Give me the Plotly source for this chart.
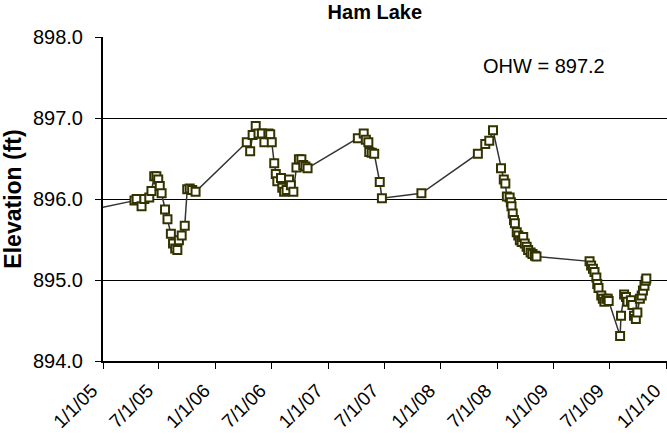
import plotly.graph_objects as go

# Lake level survey readings: date and water surface elevation (ft)
dates = [
    "2004-09-01",
    "2005-04-13", "2005-04-20", "2005-05-06", "2005-05-15", "2005-05-31",
    "2005-06-07", "2005-06-16", "2005-06-23", "2005-06-29", "2005-07-04",
    "2005-07-10", "2005-07-21", "2005-07-29", "2005-08-09", "2005-08-16",
    "2005-08-23", "2005-08-30", "2005-09-04", "2005-09-13", "2005-09-23",
    "2005-10-01", "2005-10-09", "2005-10-17", "2005-10-28",
    "2006-04-12", "2006-04-23", "2006-05-01", "2006-05-11", "2006-05-20",
    "2006-05-31", "2006-06-08", "2006-06-21", "2006-06-27", "2006-07-02",
    "2006-07-10", "2006-07-15", "2006-07-20", "2006-08-01", "2006-08-05",
    "2006-08-11", "2006-08-19", "2006-08-27", "2006-09-02", "2006-09-10",
    "2006-09-20", "2006-09-28", "2006-10-06", "2006-10-12", "2006-10-19",
    "2006-10-26",
    "2007-04-07", "2007-04-26", "2007-05-03", "2007-05-11", "2007-05-14",
    "2007-05-22", "2007-05-30", "2007-06-17", "2007-06-24", "2007-10-30",
    "2008-04-30", "2008-05-24", "2008-06-06", "2008-06-18", "2008-07-14",
    "2008-07-23", "2008-07-28", "2008-08-02", "2008-08-11", "2008-08-15",
    "2008-08-17", "2008-08-21", "2008-08-25", "2008-08-28", "2008-09-03",
    "2008-09-08", "2008-09-13", "2008-09-19", "2008-09-24", "2008-09-29",
    "2008-10-05", "2008-10-10", "2008-10-18", "2008-10-24", "2008-11-01",
    "2008-11-06",
    "2009-04-27", "2009-05-02", "2009-05-08", "2009-05-13", "2009-05-19",
    "2009-05-22", "2009-05-26", "2009-06-04", "2009-06-09", "2009-06-14",
    "2009-06-20", "2009-06-25", "2009-06-28", "2009-08-04", "2009-08-07",
    "2009-08-17", "2009-08-23", "2009-08-28", "2009-09-08", "2009-09-13",
    "2009-09-18", "2009-09-24", "2009-09-29", "2009-10-07", "2009-10-13",
    "2009-10-17", "2009-10-22", "2009-10-26", "2009-10-28",
]

elevations = [
    895.80,
    895.98, 896.00, 895.91, 896.00, 896.02,
    896.10, 896.28, 896.28, 896.24, 896.16,
    896.07, 895.87, 895.75, 895.57, 895.45,
    895.39, 895.37, 895.49, 895.55, 895.67,
    896.12, 896.13, 896.11, 896.09,
    896.70, 896.59, 896.79, 896.90, 896.81,
    896.81, 896.70, 896.81, 896.80, 896.70,
    896.44, 896.31, 896.22, 896.26, 896.14,
    896.09, 896.11, 896.24, 896.17, 896.09,
    896.39, 896.49, 896.49, 896.42, 896.40,
    896.38,
    896.75, 896.81, 896.73, 896.70, 896.58,
    896.57, 896.56, 896.21, 896.01, 896.07,
    896.56, 896.68, 896.72, 896.85, 896.38,
    896.24, 896.19, 896.03, 896.02, 895.96,
    895.91, 895.82, 895.74, 895.70, 895.59,
    895.55, 895.49, 895.47, 895.53, 895.45,
    895.41, 895.37, 895.34, 895.32, 895.30,
    895.29,
    895.23, 895.18, 895.14, 895.10, 895.03,
    894.95, 894.90, 894.81, 894.77, 894.73,
    894.77, 894.77, 894.74, 894.31, 894.56,
    894.82, 894.79, 894.73, 894.75, 894.69,
    894.56, 894.52, 894.60, 894.77, 894.81,
    894.87, 894.93, 894.99, 895.02,
]

# Half-yearly date ticks along the bottom axis
tick_dates = [
    "2005-01-01", "2005-07-01", "2006-01-01", "2006-07-01", "2007-01-01",
    "2007-07-01", "2008-01-01", "2008-07-01", "2009-01-01", "2009-07-01",
    "2010-01-01",
]
tick_labels = [
    "1/1/05", "7/1/05", "1/1/06", "7/1/06", "1/1/07", "7/1/07",
    "1/1/08", "7/1/08", "1/1/09", "7/1/09", "1/1/10",
]

title_text = "Ham Lake"
y_title = "Elevation (ft)"
ohw_label = "OHW = 897.2"
x_range = ["2005-01-01", "2010-01-03"]
y_range = [894.0, 898.0]

FONT = "Liberation Sans, Arial, sans-serif"

fig = go.Figure()
fig.add_trace(
    go.Scatter(
        x=dates,
        y=elevations,
        mode="lines+markers",
        line=dict(color="#333333", width=1.5),
        marker=dict(
            symbol="square",
            size=8,
            color="white",
            line=dict(color="#333300", width=2),
        ),
        cliponaxis=True,
        showlegend=False,
    )
)

fig.add_annotation(
    text=ohw_label,
    xref="paper", yref="paper",
    x=0.67, y=0.91,
    xanchor="left", yanchor="middle",
    showarrow=False,
    font=dict(family=FONT, size=20, color="black"),
)

fig.update_layout(
    width=667,
    height=439,
    margin=dict(l=103, r=0, t=37, b=78, autoexpand=False),
    paper_bgcolor="white",
    plot_bgcolor="white",
    title=dict(
        text="<b>" + title_text + "</b>",
        x=0.562, xanchor="center",
        y=0.988, yanchor="top",
        font=dict(family=FONT, size=20, color="black"),
    ),
    font=dict(family=FONT, size=20, color="black"),
)

fig.update_xaxes(
    type="date",
    range=x_range,
    automargin=False,
    tickmode="array",
    tickvals=tick_dates,
    ticktext=tick_labels,
    tickangle=-45,
    ticks="outside",
    ticklen=6,
    tickcolor="black",
    showline=True,
    linecolor="black",
    linewidth=2,
    showgrid=False,
    zeroline=False,
    ticklabelstandoff=3,
    ticklabelshift=-11,
    ticklabeloverflow="allow",
    tickfont=dict(family=FONT, size=19, color="black"),
)

fig.update_yaxes(
    range=y_range,
    automargin=False,
    dtick=1.0,
    tickformat=".1f",
    ticks="outside",
    ticklen=6,
    tickcolor="black",
    showline=True,
    linecolor="black",
    linewidth=2,
    showgrid=True,
    gridcolor="black",
    gridwidth=1,
    zeroline=False,
    ticklabelstandoff=8,
    tickfont=dict(family=FONT, size=20, color="black"),
    title=dict(
        text="<b>" + y_title + "</b>",
        font=dict(family=FONT, size=23, color="black"),
        standoff=9,
    ),
)

fig.write_html("out.html")
